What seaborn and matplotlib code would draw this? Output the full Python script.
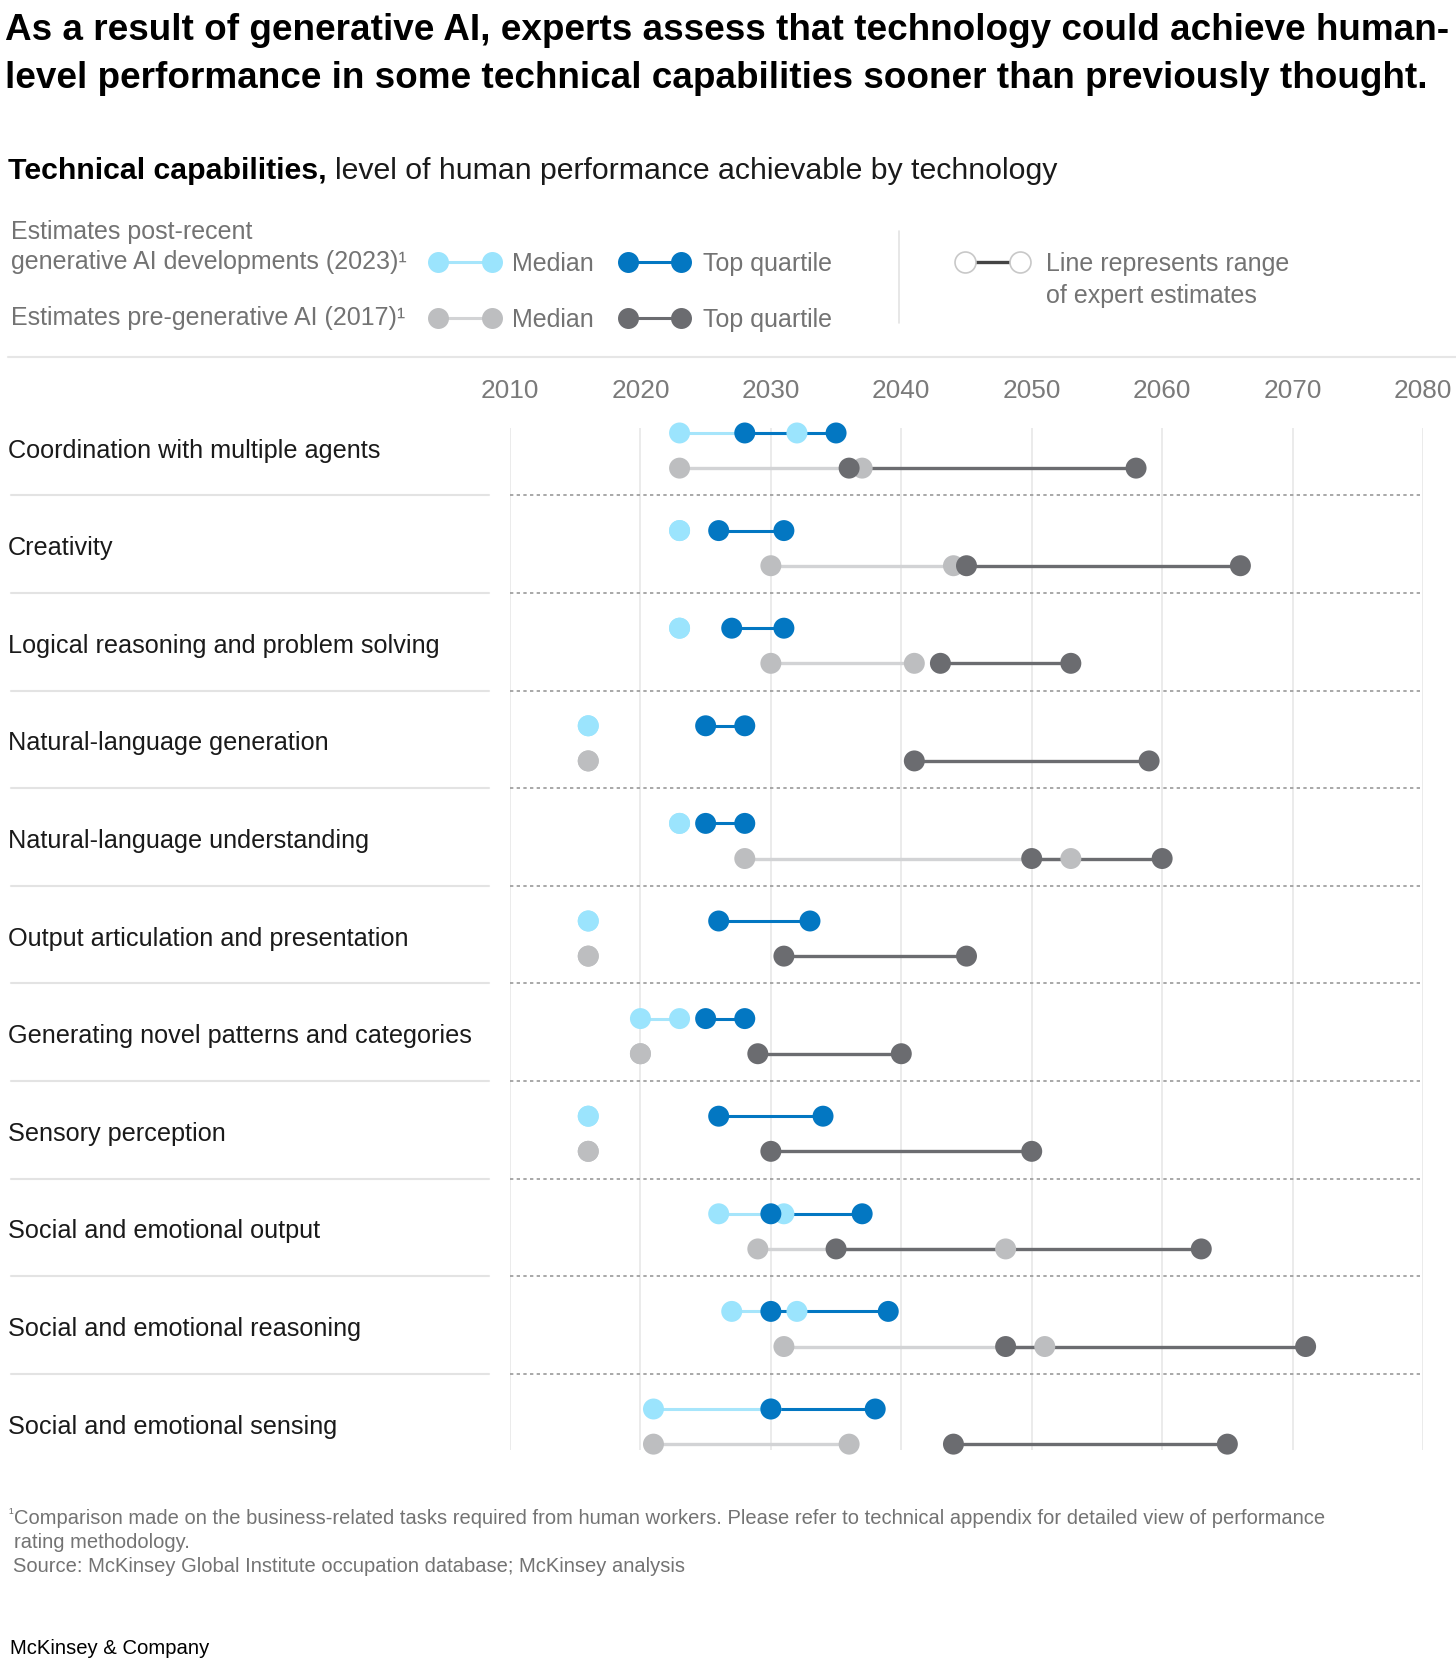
import numpy as np
import pandas as pd
import matplotlib
matplotlib.use("Agg")
import matplotlib.pyplot as plt
import matplotlib.transforms as mtransforms
import seaborn as sns

# ---------------- data ----------------
categories = [
    "Coordination with multiple agents",
    "Creativity",
    "Logical reasoning and problem solving",
    "Natural-language generation",
    "Natural-language understanding",
    "Output articulation and presentation",
    "Generating novel patterns and categories",
    "Sensory perception",
    "Social and emotional output",
    "Social and emotional reasoning",
    "Social and emotional sensing",
]
post_median_low = [2023, 2023, 2023, 2016, 2023, 2016, 2020, 2016, 2026, 2027, 2021]
post_median_high = [2032, 2023, 2023, 2016, 2023, 2016, 2023, 2016, 2031, 2032, 2030]
post_top_low = [2028, 2026, 2027, 2025, 2025, 2026, 2025, 2026, 2030, 2030, 2030]
post_top_high = [2035, 2031, 2031, 2028, 2028, 2033, 2028, 2034, 2037, 2039, 2038]
pre_median_low = [2023, 2030, 2030, 2016, 2028, 2016, 2020, 2016, 2029, 2031, 2021]
pre_median_high = [2037, 2044, 2041, 2016, 2053, 2016, 2020, 2016, 2048, 2051, 2036]
pre_top_low = [2036, 2045, 2043, 2041, 2050, 2031, 2029, 2030, 2035, 2048, 2044]
pre_top_high = [2058, 2066, 2053, 2059, 2060, 2045, 2040, 2050, 2063, 2071, 2065]
year_ticks = [2010, 2020, 2030, 2040, 2050, 2060, 2070, 2080]

# ---------------- style ----------------
sns.set_theme(style="white")
plt.rcParams["font.family"] = ["Liberation Sans", "DejaVu Sans"]

LIGHT_BLUE = "#9be4fd"
DARK_BLUE = "#0377c2"
LIGHT_GREY = "#bdbec0"
DARK_GREY = "#6b6c70"
LINE_LIGHT_BLUE = "#a6e5fb"
LINE_LIGHT_GREY = "#d2d3d5"
TEXT_GREY = "#737373"
TEXT_DARK = "#1a1a1a"

W, H = 1456, 1672
fig = plt.figure(figsize=(W / 100, H / 100), dpi=100)

# overlay axes in pixel coords (for text/decorations)
ov = fig.add_axes([0, 0, 1, 1])
ov.set_xlim(0, W)
ov.set_ylim(H, 0)
ov.axis("off")

# main axes
x_left, x_right = 510, 1423
y_top_px, y_bot_px = 403.7, 1457.8
ax = fig.add_axes([x_left / W, 1 - y_bot_px / H, (x_right - x_left) / W, (y_bot_px - y_top_px) / H])
ax.set_xlim(year_ticks[0], year_ticks[-1])
ax.set_ylim(10.5, -0.3)
for s in ax.spines.values():
    s.set_visible(False)
ax.set_xticks([])
ax.set_yticks([])
ax.patch.set_alpha(0)

n = len(categories)
rows = np.arange(n)
post_y = rows.astype(float)
pre_y = rows + 0.36

# gridlines
ax.vlines(year_ticks, -0.05, 10.42, color="#e6e6e6", lw=1.1, zorder=0)

# separators
sep_y = rows[:-1] + 0.64
ax.hlines(sep_y, year_ticks[0], year_ticks[-1], color="#9a9a9a", lw=1.2,
          linestyles=(0, (2.0, 2.0)), zorder=1)
blend = mtransforms.blended_transform_factory(ov.transData, ax.transData)
for yv in sep_y:
    ov.plot([10.7, 488.5], [yv, yv], transform=blend, color="#e3e3e3", lw=1.5, clip_on=False)

# year labels
blend_x = mtransforms.blended_transform_factory(ax.transData, ov.transData)
for t in year_ticks:
    ax.text(t, 391.5, str(t), transform=blend_x, ha="center", va="center",
            fontsize=18.9, color="#7a7a7a")

# row labels
for i, c in enumerate(categories):
    ov.text(7.5, i + 0.18, c, transform=blend, ha="left", va="center",
            fontsize=18.2, color=TEXT_DARK)

# range lines
ax.hlines(post_y, post_median_low, post_median_high, color=LINE_LIGHT_BLUE, lw=2.2, zorder=2)
ax.hlines(pre_y, pre_median_low, pre_median_high, color=LINE_LIGHT_GREY, lw=2.4, zorder=2)
ax.hlines(post_y, post_top_low, post_top_high, color=DARK_BLUE, lw=2.2, zorder=3)
ax.hlines(pre_y, pre_top_low, pre_top_high, color=DARK_GREY, lw=2.4, zorder=3)

# points
med = pd.DataFrame({
    "year": post_median_low + post_median_high + pre_median_low + pre_median_high,
    "y": list(post_y) * 2 + list(pre_y) * 2,
    "series": ["post"] * (2 * n) + ["pre"] * (2 * n),
})
top = pd.DataFrame({
    "year": post_top_low + post_top_high + pre_top_low + pre_top_high,
    "y": list(post_y) * 2 + list(pre_y) * 2,
    "series": ["post"] * (2 * n) + ["pre"] * (2 * n),
})
MS = 228
sns.scatterplot(data=med, x="year", y="y", hue="series",
                palette={"post": LIGHT_BLUE, "pre": LIGHT_GREY},
                s=MS, linewidth=0, legend=False, ax=ax, zorder=4, clip_on=False)
sns.scatterplot(data=top, x="year", y="y", hue="series",
                palette={"post": DARK_BLUE, "pre": DARK_GREY},
                s=MS, linewidth=0, legend=False, ax=ax, zorder=5, clip_on=False)
ax.set_xlabel("")
ax.set_ylabel("")
ax.set_xlim(year_ticks[0], year_ticks[-1])
ax.set_ylim(10.5, -0.3)

# ---------------- titles ----------------
ov.text(5, 31, "As a result of generative AI, experts assess that technology could achieve human-",
        fontsize=26.6, fontweight="bold", color="#000000", ha="left", va="center")
ov.text(5, 78, "level performance in some technical capabilities sooner than previously thought.",
        fontsize=26.6, fontweight="bold", color="#000000", ha="left", va="center")

fig.canvas.draw()
renderer = fig.canvas.get_renderer()
t_b = ov.text(8.5, 171, "Technical capabilities,", fontsize=21.8, fontweight="bold",
              color="#000000", ha="left", va="center")
bb = t_b.get_window_extent(renderer)
ov.text(bb.x1 + 8, 171, "level of human performance achievable by technology", fontsize=21.8,
        color="#1a1a1a", ha="left", va="center")

# ---------------- legend ----------------
LS = 18
ov.text(10.7, 231.5, "Estimates post-recent", fontsize=LS, color=TEXT_GREY, ha="left", va="center")
ov.text(10.7, 262.4, "generative AI developments (2023)¹", fontsize=LS, color=TEXT_GREY, ha="left", va="center")
ov.text(10.7, 317.9, "Estimates pre-generative AI (2017)¹", fontsize=LS, color=TEXT_GREY, ha="left", va="center")

MSZ = 15.1
for yy, (c_med, c_med_line, c_top) in [(262.4, (LIGHT_BLUE, LINE_LIGHT_BLUE, DARK_BLUE)),
                                       (317.9, (LIGHT_GREY, LINE_LIGHT_GREY, DARK_GREY))]:
    ov.plot([438.4, 491.7], [yy, yy], color=c_med_line, lw=2.2, marker="o", ms=MSZ,
            mfc=c_med, mec=c_med, mew=0)
    ov.text(512, yy + 2, "Median", fontsize=LS, color=TEXT_GREY, ha="left", va="center")
    ov.plot([628.3, 680.5], [yy, yy], color=c_top, lw=2.2, marker="o", ms=MSZ,
            mfc=c_top, mec=c_top, mew=0)
    ov.text(703, yy + 2, "Top quartile", fontsize=LS, color=TEXT_GREY, ha="left", va="center")

ov.plot([899, 899], [231, 323], color="#e3e3e3", lw=1.2)
ov.plot([965.3, 1019.7], [262.4, 262.4], color="#444444", lw=2.4, zorder=2)
ov.plot([965.3, 1019.7], [262.4, 262.4], ls="none", marker="o", ms=MSZ, mfc="white",
        mec="#c8c8c8", mew=1.2, zorder=3)
ov.text(1046.4, 264.5, "Line represents range", fontsize=LS, color=TEXT_GREY, ha="left", va="center")
ov.text(1046.4, 295.5, "of expert estimates", fontsize=LS, color=TEXT_GREY, ha="left", va="center")

ov.plot([7.5, 1456], [357.3, 357.3], color="#e6e6e6", lw=1.5)

# ---------------- footnotes ----------------
FS = 14.5
ov.text(8.5, 1514, "¹", fontsize=10, color=TEXT_GREY, ha="left", va="center")
ov.text(14, 1519, "Comparison made on the business-related tasks required from human workers. "
        "Please refer to technical appendix for detailed view of performance",
        fontsize=FS, color=TEXT_GREY, ha="left", va="center")
ov.text(14, 1542, "rating methodology.", fontsize=FS, color=TEXT_GREY, ha="left", va="center")
ov.text(13, 1566, "Source: McKinsey Global Institute occupation database; McKinsey analysis",
        fontsize=FS, color=TEXT_GREY, ha="left", va="center")
ov.text(10, 1648, "McKinsey & Company", fontsize=14.6, color="#000000", ha="left", va="center")

fig.savefig("out.png", dpi=100)
